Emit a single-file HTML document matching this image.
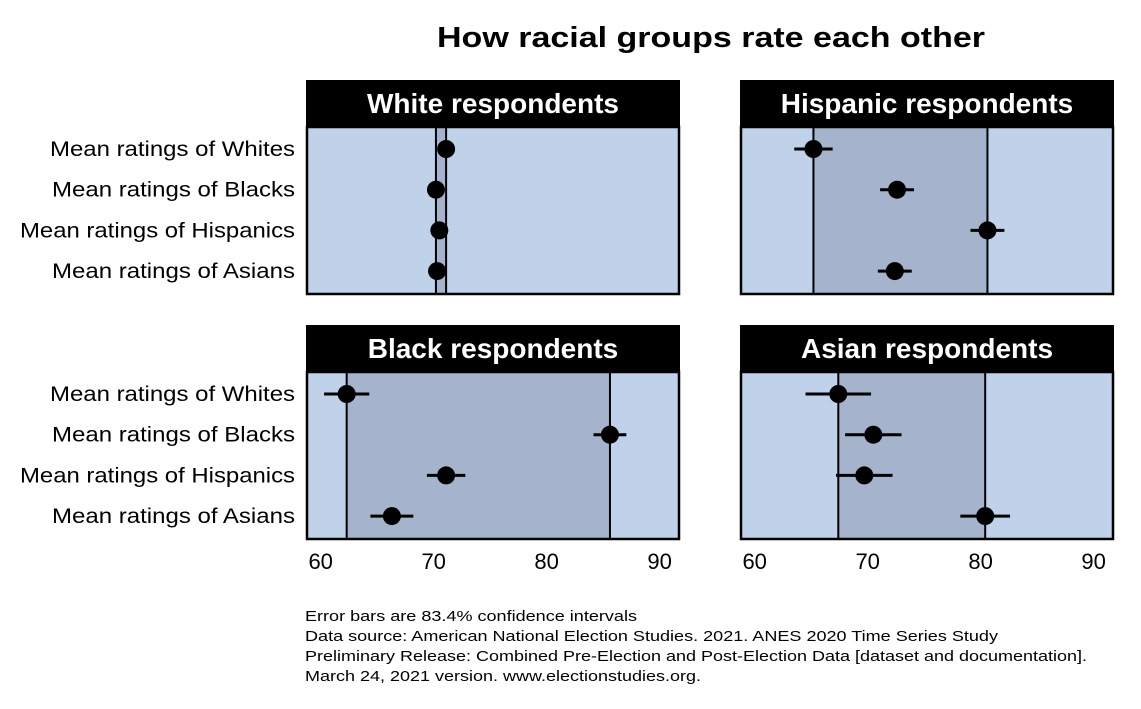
<!DOCTYPE html>
<html><head><meta charset="utf-8"><style>
body{margin:0;background:#fff;width:1141px;height:704px;overflow:hidden;font-family:"Liberation Sans",Arial,sans-serif}
</style></head><body>
<svg id="chart" width="1141" height="704" xmlns="http://www.w3.org/2000/svg" font-family="Liberation Sans, Arial, sans-serif">
<text x="711" y="47" text-anchor="middle" font-size="29" font-weight="bold" textLength="548" lengthAdjust="spacingAndGlyphs">How racial groups rate each other</text>
<g id="panels"></g>
<g font-size="15">
<text x="305" y="621" textLength="332" lengthAdjust="spacingAndGlyphs">Error bars are 83.4% confidence intervals</text>
<text x="305" y="641" textLength="693" lengthAdjust="spacingAndGlyphs">Data source: American National Election Studies. 2021. ANES 2020 Time Series Study</text>
<text x="305" y="661" textLength="782" lengthAdjust="spacingAndGlyphs">Preliminary Release: Combined Pre-Election and Post-Election Data [dataset and documentation].</text>
<text x="305" y="681" textLength="396" lengthAdjust="spacingAndGlyphs">March 24, 2021 version. www.electionstudies.org.</text>
</g>
</svg>
<script>
const categories = ["Mean ratings of Whites","Mean ratings of Blacks","Mean ratings of Hispanics","Mean ratings of Asians"];
const panelTitles = ["White respondents","Hispanic respondents","Black respondents","Asian respondents"];
const whiteMeans = [71.1, 70.2, 70.5, 70.3];
const whiteErr = [0.5, 0.5, 0.5, 0.5];
const hispanicMeans = [65.2, 72.6, 80.6, 72.4];
const hispanicErr = [1.7, 1.5, 1.5, 1.5];
const blackMeans = [62.3, 85.6, 71.1, 66.3];
const blackErr = [2.0, 1.45, 1.7, 1.9];
const asianMeans = [67.4, 70.5, 69.7, 80.4];
const asianErr = [2.9, 2.5, 2.5, 2.2];
const tickValues = [60, 70, 80, 90];
const tickLabels = ["60","70","80","90"];

const NS = "http://www.w3.org/2000/svg";
const root = document.getElementById("panels");
function mk(tag, attrs, parent){const e=document.createElementNS(NS,tag);for(const k in attrs)e.setAttribute(k,attrs[k]);(parent||root).appendChild(e);return e;}

const series = [[whiteMeans,whiteErr],[hispanicMeans,hispanicErr],[blackMeans,blackErr],[asianMeans,asianErr]];
const layouts = [{x0:306,y0:80,col:0,row:0},{x0:740,y0:80,col:1,row:0},{x0:306,y0:325,col:0,row:1},{x0:740,y0:325,col:1,row:1}];
const W = 374, HH = 47, PH = 168;
const DMIN = 58.7, DMAX = 91.8;

series.forEach((s, i) => {
  const L = layouts[i];
  const xs = v => L.x0 + (v - DMIN) / (DMAX - DMIN) * W;
  const top = L.y0 + HH;
  const ys = j => top + 22 + j * 40.7;
  const g = mk("g", {});
  
  
  const hdr = mk("rect", {x:L.x0, y:L.y0, width:W, height:HH, fill:"#000"}, g);
  
  
  const ht = mk("text", {x:L.x0+W/2, y:L.y0+33, "text-anchor":"middle", fill:"#fff", "font-size":28, "font-weight":"bold"}, g);
  ht.textContent = panelTitles[i];
  
  
  mk("rect", {x:L.x0, y:top, width:W, height:PH, fill:"#c0d1ea"}, g);
  const mn = Math.min(...s[0]), mx = Math.max(...s[0]);
  const band = mk("rect", {x:xs(mn), y:top, width:xs(mx)-xs(mn), height:PH, fill:"#a5b4cc"}, g);
  
  
  [mn, mx].forEach(v => mk("line", {x1:xs(v), x2:xs(v), y1:top, y2:top+PH, stroke:"#000", "stroke-width":2}, g));
  s[0].forEach((v, j) => {
    const eb = mk("line", {x1:xs(v - s[1][j]), x2:xs(v + s[1][j]), y1:ys(j), y2:ys(j), stroke:"#000", "stroke-width":3}, g);
    
    
    const pt = mk("circle", {cx:xs(v), cy:ys(j), r:9, fill:"#000"}, g);
    
    
  });
  mk("rect", {x:L.x0+1, y:top, width:W-2, height:PH-1, fill:"none", stroke:"#000", "stroke-width":2.5}, g);
  if (L.col === 0) {
    categories.forEach((c, j) => {
      const t = mk("text", {x:L.x0-11, y:ys(j)+7, "text-anchor":"end", "font-size":21.5, "textLength":(j===2?275:(j===0?245:243)), "lengthAdjust":"spacingAndGlyphs"}, g);
      t.textContent = c;
      
      
    });
  }
  if (L.row === 1) {
    tickValues.forEach((v, j) => {
      const t = mk("text", {x:xs(v), y:top+PH+29, "text-anchor":"middle", "font-size":22}, g);
      t.textContent = tickLabels[j];
      
      
    });
  }
});
</script>
</body></html>
